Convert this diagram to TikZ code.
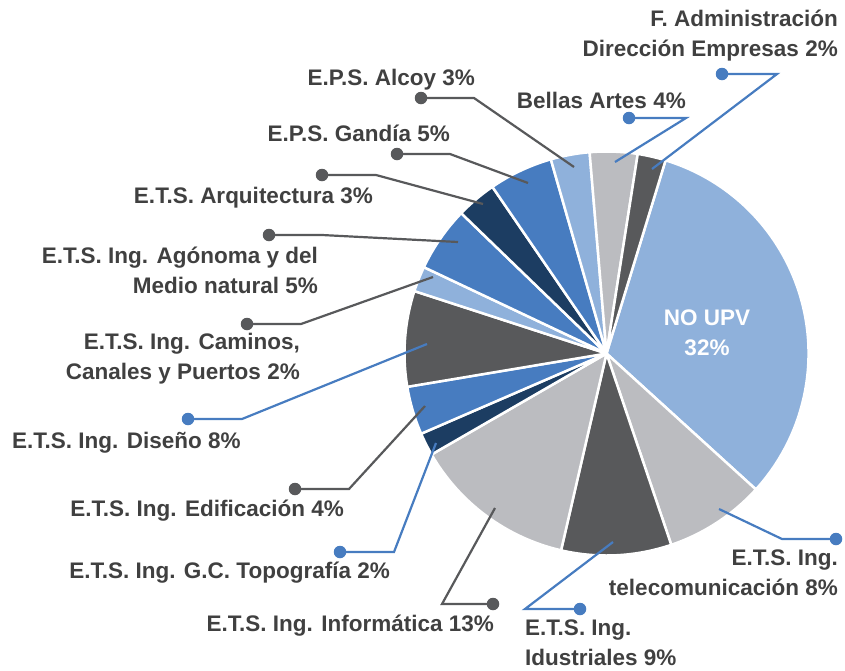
\documentclass[tikz,border=0pt]{standalone}
\usepackage{fontspec}
\setmainfont{Liberation Sans}
\definecolor{upvlight}{HTML}{8FB1DB}
\definecolor{upvmid}{HTML}{477CC0}
\definecolor{upvnavy}{HTML}{1C3D62}
\definecolor{upvdark}{HTML}{58595B}
\definecolor{upvgray}{HTML}{BBBCC0}
\definecolor{txtgray}{HTML}{404040}

\begin{document}
\begin{tikzpicture}[x=1pt,y=-1pt,
    lbl/.style={font=\bfseries\fontsize{22.5}{30}\selectfont, text=txtgray, inner sep=0pt},
    slice/.style={draw=white, line width=2.5pt, line join=round},
    dotb/.style={circle, fill=upvmid, inner sep=0pt, minimum size=12.5pt},
    dotg/.style={circle, fill=upvdark, inner sep=0pt, minimum size=12.5pt},
    leadb/.style={draw=upvmid, line width=2.2pt},
    leadg/.style={draw=upvdark, line width=2.2pt}]
  \useasboundingbox (0,0) rectangle (845,670);
  % pie
  \begin{scope}[shift={(606.5,353.5)}, yscale=-1]
    \filldraw[slice, fill=upvlight] (0,0) -- (73:202) arc[start angle=73, end angle=-42.3, radius=202] -- cycle;
    \filldraw[slice, fill=upvgray] (0,0) -- (-42.3:202) arc[start angle=-42.3, end angle=-71.3, radius=202] -- cycle;
    \filldraw[slice, fill=upvdark] (0,0) -- (-71.3:202) arc[start angle=-71.3, end angle=-103, radius=202] -- cycle;
    \filldraw[slice, fill=upvgray] (0,0) -- (-103:202) arc[start angle=-103, end angle=-150, radius=202] -- cycle;
    \filldraw[slice, fill=upvnavy] (0,0) -- (-150:202) arc[start angle=-150, end angle=-156.6, radius=202] -- cycle;
    \filldraw[slice, fill=upvmid] (0,0) -- (-156.6:202) arc[start angle=-156.6, end angle=-170.5, radius=202] -- cycle;
    \filldraw[slice, fill=upvdark] (0,0) -- (-170.5:202) arc[start angle=-170.5, end angle=-198, radius=202] -- cycle;
    \filldraw[slice, fill=upvlight] (0,0) -- (-198:202) arc[start angle=-198, end angle=-205.3, radius=202] -- cycle;
    \filldraw[slice, fill=upvmid] (0,0) -- (-205.3:202) arc[start angle=-205.3, end angle=-224, radius=202] -- cycle;
    \filldraw[slice, fill=upvnavy] (0,0) -- (-224:202) arc[start angle=-224, end angle=-235.6, radius=202] -- cycle;
    \filldraw[slice, fill=upvmid] (0,0) -- (-235.6:202) arc[start angle=-235.6, end angle=-254, radius=202] -- cycle;
    \filldraw[slice, fill=upvlight] (0,0) -- (-254:202) arc[start angle=-254, end angle=-265.2, radius=202] -- cycle;
    \filldraw[slice, fill=upvgray] (0,0) -- (-265.2:202) arc[start angle=-265.2, end angle=-278.9, radius=202] -- cycle;
    \filldraw[slice, fill=upvdark] (0,0) -- (-278.9:202) arc[start angle=-278.9, end angle=-287, radius=202] -- cycle;
  \end{scope}
  \node[lbl, text=white, align=center] (noupv) at (707,333) {NO UPV\\32\%};

  % labels
  \node[lbl, anchor=east, align=right] (fadm) at (838,35.5) {F. Administración\\Dirección Empresas 2\%};
  \node[lbl, anchor=base east] (bellas) at (686,108) {Bellas Artes 4\%};
  \node[lbl, anchor=base east] (alcoy) at (475,85) {E.P.S. Alcoy 3\%};
  \node[lbl, anchor=base east] (gandia) at (450,141) {E.P.S. Gandía 5\%};
  \node[lbl, anchor=base east] (arqui) at (373,203) {E.T.S. Arquitectura 3\%};
  \node[lbl, anchor=east, align=right] (agro) at (318,270) {E.T.S. Ing. Agónoma y del\\Medio natural 5\%};
  \node[lbl, anchor=east, align=right] (camin) at (300,358.5) {E.T.S. Ing. Caminos,\\Canales y Puertos 2\%};
  \node[lbl, anchor=base west] (disen) at (12,448) {E.T.S. Ing. Diseño 8\%};
  \node[lbl, anchor=base east] (edif) at (344,516) {E.T.S. Ing. Edificación 4\%};
  \node[lbl, anchor=base east] (topo) at (390,578) {E.T.S. Ing. G.C. Topografía 2\%};
  \node[lbl, anchor=base east] (infor) at (494,631) {E.T.S. Ing. Informática 13\%};
  \node[lbl, anchor=west, align=left] (indus) at (525,643) {E.T.S. Ing.\\Idustriales 9\%};
  \node[lbl, anchor=east, align=right] (telec) at (838,572.5) {E.T.S. Ing.\\telecomunicación 8\%};

  % leaders
  \coordinate (kfadm) at (777,74);   \coordinate (efadm) at (652,169);
  \coordinate (kbellas) at (686,118); \coordinate (ebellas) at (615,162);
  \coordinate (kalcoy) at (474,98);  \coordinate (ealcoy) at (574,167);
  \coordinate (kgandia) at (450,154); \coordinate (egandia) at (528,183);
  \coordinate (karqui) at (376,175); \coordinate (earqui) at (483,204);
  \coordinate (kagro) at (322,235);  \coordinate (eagro) at (458,242);
  \coordinate (kcamin) at (301,324); \coordinate (ecamin) at (433,277);
  \coordinate (kdisen) at (242,419); \coordinate (edisen) at (427,344);
  \coordinate (kedif) at (349,489);  \coordinate (eedif) at (425,406);
  \coordinate (ktopo) at (394,552);  \coordinate (etopo) at (436,443);
  \coordinate (kinfor) at (442,604); \coordinate (einfor) at (495,508);
  \coordinate (kindus) at (525,609); \coordinate (eindus) at (613,542);
  \coordinate (ktelec) at (782,539); \coordinate (etelec) at (719,509);

  \node[dotb] (dfadm) at (722,74) {};
  \node[dotb] (dbellas) at (629,118) {};
  \node[dotg] (dalcoy) at (421,98) {};
  \node[dotg] (dgandia) at (397,154) {};
  \node[dotg] (darqui) at (322,175) {};
  \node[dotg] (dagro) at (269,235) {};
  \node[dotg] (dcamin) at (247,324) {};
  \node[dotb] (ddisen) at (188,419) {};
  \node[dotg] (dedif) at (295,489) {};
  \node[dotb] (dtopo) at (340,552) {};
  \node[dotg] (dinfor) at (493,604) {};
  \node[dotb] (dindus) at (580,609) {};
  \node[dotb] (dtelec) at (836,539) {};

  \draw[leadb] (dfadm.center) -- (kfadm) -- (efadm);
  \draw[leadb] (dbellas.center) -- (kbellas) -- (ebellas);
  \draw[leadg] (dalcoy.center) -- (kalcoy) -- (ealcoy);
  \draw[leadg] (dgandia.center) -- (kgandia) -- (egandia);
  \draw[leadg] (darqui.center) -- (karqui) -- (earqui);
  \draw[leadg] (dagro.center) -- (kagro) -- (eagro);
  \draw[leadg] (dcamin.center) -- (kcamin) -- (ecamin);
  \draw[leadb] (ddisen.center) -- (kdisen) -- (edisen);
  \draw[leadg] (dedif.center) -- (kedif) -- (eedif);
  \draw[leadb] (dtopo.center) -- (ktopo) -- (etopo);
  \draw[leadg] (dinfor.center) -- (kinfor) -- (einfor);
  \draw[leadb] (dindus.center) -- (kindus) -- (eindus);
  \draw[leadb] (dtelec.center) -- (ktelec) -- (etelec);
\end{tikzpicture}
\end{document}
